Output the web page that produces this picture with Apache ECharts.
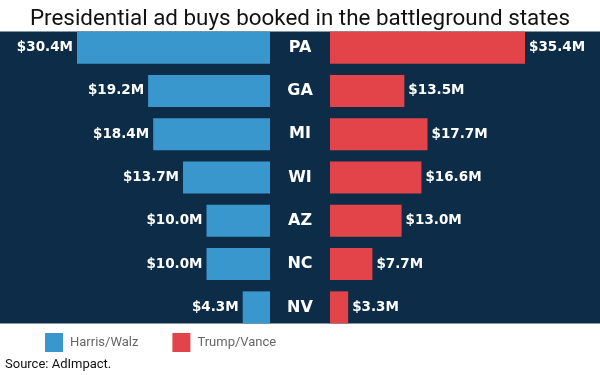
<!DOCTYPE html>
<html><head><meta charset="utf-8">
<script src="https://cdn.jsdelivr.net/npm/echarts@6/dist/echarts.min.js"></script>
<style>html,body{margin:0;padding:0;background:#fff}#c{width:600px;height:375px}</style>
</head><body><div id="c"></div>
<script>
const states = ['PA', 'GA', 'MI', 'WI', 'AZ', 'NC', 'NV'];
const harris = [30.4, 19.2, 18.4, 13.7, 10.0, 10.0, 4.3];
const trump = [35.4, 13.5, 17.7, 16.6, 13.0, 7.7, 3.3];
const seriesNames = ['Harris/Walz', 'Trump/Vance'];
const titleText = 'Presidential ad buys booked in the battleground states';
const sourceText = 'Source: AdImpact.';

const NAVY = '#0c2c47', BLUE = '#3a97cd', RED = '#e2444a';
const valueLabel = (pos) => ({
  show: true, position: pos, distance: 4,
  color: '#fff', fontWeight: 'bold', fontSize: 13.5, fontFamily: 'DejaVu Sans',
  formatter: p => '$' + p.value.toFixed(1) + 'M'
});

const chart = echarts.init(document.getElementById('c'), null, {renderer: 'canvas'});
chart.setOption({
  backgroundColor: '#fff',
  animation: false,
  title: {
    text: titleText, left: 'center', top: 3,
    textStyle: {fontFamily: 'Roboto', fontSize: 22.4, fontWeight: 'normal', color: '#111'}
  },
  graphic: [
    {type: 'rect', z: -10, shape: {x: 0, y: 31.5, width: 600, height: 292}, style: {fill: NAVY}},
    {type: 'text', left: 5, top: 358, style: {text: sourceText, fill: '#111', font: '13px Roboto'}}
  ],
  legend: {
    data: seriesNames, left: 45, top: 333, padding: 0,
    icon: 'rect', itemWidth: 18, itemHeight: 19, itemGap: 34,
    textStyle: {fontFamily: 'Roboto', fontSize: 13, color: '#666', padding: [0, 0, 0, 2]}
  },
  grid: [
    {left: 77, width: 193, top: 26, height: 303},
    {left: 330, width: 195, top: 26, height: 303}
  ],
  xAxis: [
    {gridIndex: 0, type: 'value', inverse: true, min: 0, max: 'dataMax', show: false},
    {gridIndex: 1, type: 'value', min: 0, max: 'dataMax', show: false}
  ],
  yAxis: [
    {gridIndex: 0, type: 'category', data: states, inverse: true, position: 'right',
     axisLine: {show: false}, axisTick: {show: false}, splitLine: {show: false},
     axisLabel: {margin: 30, align: 'center', color: '#fff', fontWeight: 'bold', fontSize: 16, fontFamily: 'DejaVu Sans'}},
    {gridIndex: 1, type: 'category', data: states, inverse: true, show: false}
  ],
  series: [
    {name: seriesNames[0], type: 'bar', xAxisIndex: 0, yAxisIndex: 0, data: harris,
     barWidth: 32, itemStyle: {color: BLUE}, label: valueLabel('left')},
    {name: seriesNames[1], type: 'bar', xAxisIndex: 1, yAxisIndex: 1, data: trump,
     barWidth: 32, itemStyle: {color: RED}, label: valueLabel('right')}
  ]
});
</script></body></html>
